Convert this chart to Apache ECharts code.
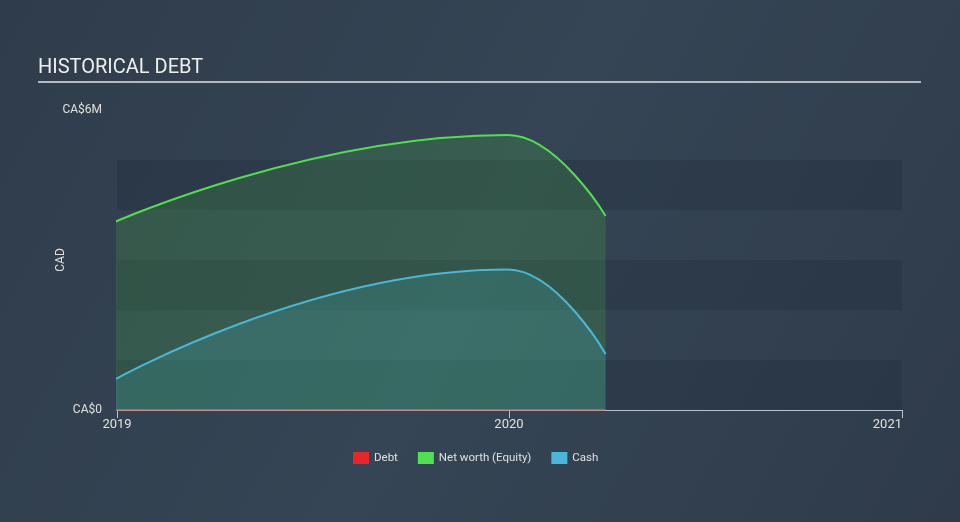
<!DOCTYPE html>
<html><head><meta charset="utf-8">
<script src="https://cdn.jsdelivr.net/npm/echarts@6/dist/echarts.min.js"></script>
<style>html,body{margin:0;padding:0;background:#333f4f;}#c{width:960px;height:522px;}</style>
</head><body><div id="c"></div>
<script>
var dates = ['2018-12-31', '2019-12-31', '2020-03-31'];
var debt = [0, 0, 0];
var netWorth = [3.77e6, 5.5e6, 3.88e6];
var cash = [0.62e6, 2.81e6, 1.12e6];
var yTicks = {0: 'CA$0', 6000000: 'CA$6M'};

function pairs(vals){ return dates.map(function(d,i){ return [d, vals[i]]; }); }

var chart = echarts.init(document.getElementById('c'));
chart.setOption({
  backgroundColor: {type:'linear', x:0, y:0, x2:1, y2:1, colorStops:[{offset:0,color:'#2f3c4b'},{offset:0.5,color:'#354555'},{offset:1,color:'#2f3b4a'}]},
  textStyle: {fontFamily: 'Roboto'},
  title: {text: 'HISTORICAL DEBT', left: 38, top: 58, padding: 0, textStyle: {color: '#eeeeee', fontSize: 20, fontWeight: 'normal', fontFamily: 'Roboto'}},
  graphic: [{type: 'rect', shape: {x: 38, y: 81, width: 883, height: 2}, style: {fill: '#b4b8c0'}}],
  legend: {
    bottom: 53, left: 348, itemWidth: 16, itemHeight: 12, itemGap: 20,
    icon: 'rect',
    textStyle: {color: '#e0e0e0', fontSize: 11.5},
    data: ['Debt', 'Net worth (Equity)', 'Cash']
  },
  grid: {left: 117, right: 58, top: 110, bottom: 112},
  xAxis: {
    type: 'time', min: '2019-01-01', max: '2021-01-01',
    splitNumber: 2,
    axisLine: {lineStyle: {color: '#b8c2cc', width: 1}},
    axisTick: {show: true, length: 8, lineStyle: {color: '#b8c2cc'}},
    axisLabel: {color: '#e0e0e0', fontSize: 13, formatter: '{yyyy}', margin: 8, hideOverlap: true, showMaxLabel: true, alignMaxLabel: 'right'},
    splitLine: {show: false}
  },
  yAxis: {
    type: 'value', min: 0, max: 6e6, interval: 1e6,
    name: 'CAD', nameLocation: 'middle', nameGap: 50, nameRotate: 90, nameMoveOverlap: false,
    nameTextStyle: {color: '#e0e0e0', fontSize: 12},
    axisLine: {show: false}, axisTick: {show: false},
    axisLabel: {color: '#e0e0e0', fontSize: 12, margin: 15, formatter: function(v){ return yTicks[v] || ''; }},
    splitLine: {show: false},
    splitArea: {show: true, areaStyle: {color: ['rgba(36,48,62,0.4)', 'rgba(0,0,0,0)']}}
  },
  series: [
    {name: 'Debt', type: 'line', data: pairs(debt), smooth: true, symbol: 'none',
     itemStyle: {color: '#e8262a'}, lineStyle: {color: '#d86060', width: 1.5}, z: 4},
    {name: 'Net worth (Equity)', type: 'line', data: pairs(netWorth), smooth: 0.5, smoothMonotone: 'x', symbol: 'none',
     itemStyle: {color: '#4fe24f'}, lineStyle: {color: '#4fe04c', width: 2},
     areaStyle: {color: 'rgba(70,170,70,0.35)'}, z: 2},
    {name: 'Cash', type: 'line', data: pairs(cash), smooth: 0.5, smoothMonotone: 'x', symbol: 'none',
     itemStyle: {color: '#48b8da'}, lineStyle: {color: '#48b8da', width: 2},
     areaStyle: {color: 'rgba(70,170,180,0.35)'}, z: 3}
  ]
});
</script></body></html>
